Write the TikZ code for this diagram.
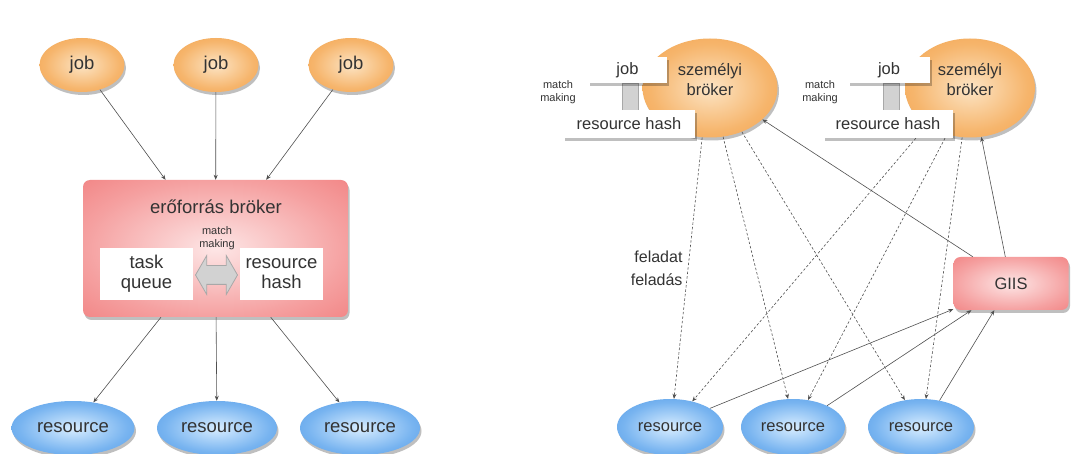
\documentclass[tikz,border=0pt]{standalone}
\usepackage{fontspec}
\setmainfont{Liberation Sans}
\usetikzlibrary{shapes.geometric,shapes.arrows,shadows,arrows.meta}
\definecolor{orEdge}{HTML}{F0902E}
\definecolor{orMid}{HTML}{F6B56C}
\definecolor{orIn}{HTML}{FCE4C4}
\definecolor{blEdge}{HTML}{2F82DE}
\definecolor{blMid}{HTML}{78B4F0}
\definecolor{blIn}{HTML}{D8EDFF}
\definecolor{rdEdge}{HTML}{EE6666}
\definecolor{rdMid}{HTML}{F5A0A0}
\definecolor{rdIn}{HTML}{FDE6E6}
\definecolor{txt}{HTML}{333333}
\definecolor{ln}{HTML}{505050}
\definecolor{mmfill}{HTML}{D2D2D2}
\definecolor{mmdraw}{HTML}{A8A8A8}
\pgfdeclareradialshading{orshade}{\pgfpoint{0bp}{0bp}}{color(0bp)=(orIn); color(22bp)=(orMid); color(50bp)=(orEdge); color(100bp)=(orEdge)}
\pgfdeclareradialshading{blshade}{\pgfpoint{0bp}{0bp}}{color(0bp)=(blIn); color(22bp)=(blMid); color(50bp)=(blEdge); color(100bp)=(blEdge)}
\pgfdeclareradialshading{rdshade}{\pgfpoint{0bp}{0bp}}{color(0bp)=(rdIn); color(25bp)=(rdMid); color(50bp)=(rdEdge); color(100bp)=(rdEdge)}
\tikzset{
  shad/.style={drop shadow={shadow xshift=1.5pt,shadow yshift=-3pt,opacity=0.25,fill=black}},
  bigtxt/.style={font=\fontsize{18.5}{20}\selectfont, text=txt},
  midtxt/.style={font=\fontsize{16.5}{20}\selectfont, text=txt},
  smalltxt/.style={font=\fontsize{11}{13}\selectfont, text=txt, align=center, inner sep=0pt},
  jobell/.style={ellipse, inner sep=0pt, minimum width=85pt, minimum height=54pt, shading=orshade, shad, bigtxt},
  resell/.style={ellipse, inner sep=0pt, minimum height=54pt, shading=blshade, shad},
  pbell/.style={ellipse, inner sep=0pt, minimum height=99pt, shading=orshade, shad},
  redbox/.style={rectangle, rounded corners=7pt, inner sep=0pt, shading=rdshade, shad},
  whitebox/.style={rectangle, fill=white, inner sep=0pt, align=center},
  dblarrow/.style={double arrow, draw=mmdraw, fill=mmfill, line width=0.8pt, inner xsep=0pt, inner ysep=9pt, double arrow head extend=10pt, double arrow tip angle=120},
  mmblock/.style={rectangle, fill=mmfill, draw=mmdraw, line width=0.6pt, inner sep=0pt, minimum width=16pt, minimum height=27pt},
  conn/.style={draw=ln, line width=0.6pt, -{Stealth[length=5pt,width=4pt]}},
  dconn/.style={conn, dash pattern=on 2.5pt off 2pt}
}
\begin{document}
\begin{tikzpicture}[x=1pt,y=1pt]
\path[use as bounding box, fill=white] (0,0) rectangle (1071,-454);
% ---------------- left diagram ----------------
\node[jobell] (j1) at (82,-65) {job};
\node[jobell] (j2) at (216,-65) {job};
\node[jobell] (j3) at (351,-65) {job};
\node[redbox, minimum width=265pt, minimum height=137pt] (eb) at (215.5,-248.5) {};
\node[bigtxt] (ebt) at (216,-207) {erőforrás bröker};
\node[dblarrow, minimum height=42pt] (mma) at (216.5,-275) {};
\node[whitebox, bigtxt, minimum width=93pt, minimum height=52pt] (tq) at (146.5,-274) {task\\queue};
\node[whitebox, bigtxt, minimum width=83pt, minimum height=52pt] (rhl) at (281.5,-274) {resource\\hash};
\node[smalltxt] (mml) at (217,-238) {match\\making};
\node[resell, minimum width=123pt, bigtxt] (lr1) at (73,-428) {resource};
\node[resell, minimum width=120pt, bigtxt] (lr2) at (217,-428) {resource};
\node[resell, minimum width=120pt, bigtxt] (lr3) at (360,-428) {resource};
\draw[conn] (j1) -- (eb);
\draw[conn] (j2) -- (eb);
\draw[conn] (j3) -- (eb);
\draw[conn] (eb) -- (lr1);
\draw[conn] (eb) -- (lr2);
\draw[conn] (eb) -- (lr3);
% ---------------- right diagram ----------------
\node[pbell, minimum width=135pt] (pb1) at (710,-88) {};
\node[midtxt, align=center] (pb1t) at (710,-80) {személyi\\bröker};
\node[mmblock] (c1) at (630,-97) {};
\node[whitebox, midtxt, shad, minimum width=79pt, minimum height=26pt] (jb1) at (627.5,-70) {job};
\node[whitebox, midtxt, shad, minimum width=132pt, minimum height=28pt] (rh1) at (629,-124) {resource hash};
\node[smalltxt] (mm1) at (558,-92) {match\\making};

\node[pbell, minimum width=130pt] (pb2) at (970,-88) {};
\node[midtxt, align=center] (pb2t) at (970,-80) {személyi\\bröker};
\node[mmblock] (c2) at (891,-97) {};
\node[whitebox, midtxt, shad, minimum width=82pt, minimum height=26pt] (jb2) at (889,-70) {job};
\node[whitebox, midtxt, shad, minimum width=130pt, minimum height=28pt] (rh2) at (888,-124) {resource hash};
\node[smalltxt] (mm2) at (820,-92) {match\\making};

\node[redbox, minimum width=115pt, minimum height=53pt, midtxt] (giis) at (1011,-283.5) {GIIS};
\node[resell, minimum width=106pt, minimum height=56pt, midtxt] (r1) at (670,-427) {resource};
\node[resell, minimum width=104pt, minimum height=56pt, midtxt] (r2) at (793,-427) {resource};
\node[resell, minimum width=106pt, minimum height=56pt, midtxt] (r3) at (921,-427) {resource};
\node[midtxt, align=right, font=\fontsize{16}{23}\selectfont, anchor=east] (fel) at (686,-268.5) {feladat\\feladás};

\draw[dconn] (pb1.-99) -- (r1.82);
\draw[dconn] (pb1.-75) -- (r2.100);
\draw[dconn] (pb1.-54) -- (r3.121);
\draw[dconn] (rh2.-27.4) -- (r1.49);
\draw[dconn] (rh2.-14.5) -- (r2.61);
\draw[dconn] (pb2.-99) -- (r3.80);

\draw[conn] (giis.145.8) -- (pb1.-31);
\draw[conn] (giis.102.8) -- (pb2.-77);
\draw[conn] (r1.25) -- (giis.-156.4);
\draw[conn] (r2.32.7) -- (giis.-146.5);
\draw[conn] (r3.55) -- (giis.-122);
\end{tikzpicture}
\end{document}
